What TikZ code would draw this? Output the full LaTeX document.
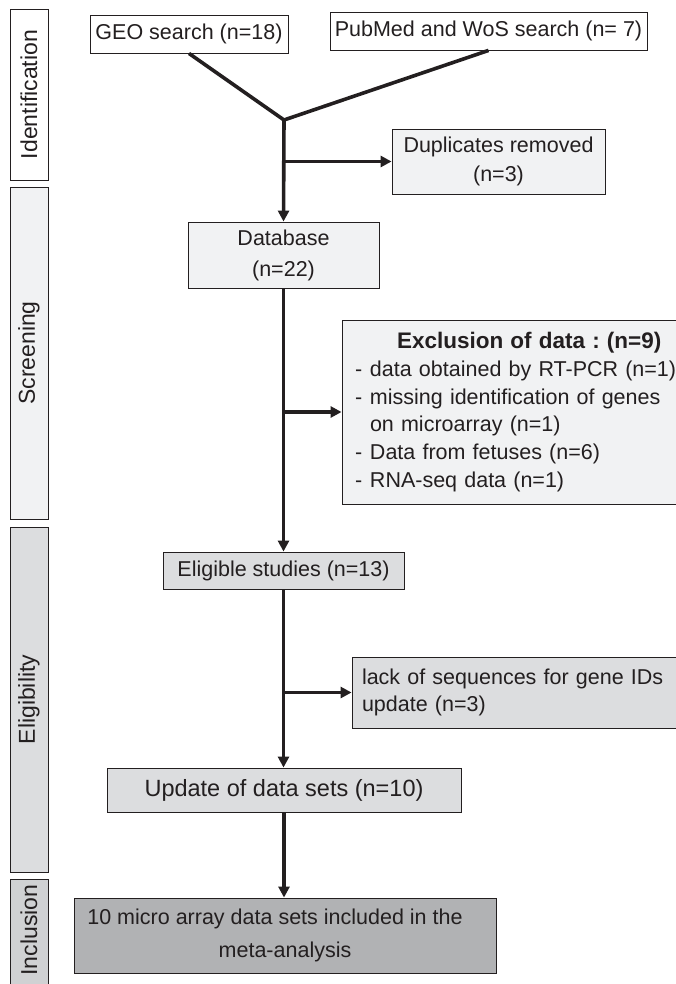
\documentclass[tikz,border=0pt]{standalone}
\usepackage{fontspec}
\setmainfont{Liberation Sans}
\usetikzlibrary{arrows.meta}
\definecolor{ink}{HTML}{231F20}
\definecolor{lightfill}{HTML}{F1F2F3}
\definecolor{midfill}{HTML}{DCDDDF}
\definecolor{incfill}{HTML}{D0D1D3}
\definecolor{darkfill}{HTML}{B1B2B4}
\frenchspacing
\begin{document}
\begin{tikzpicture}[x=1pt,y=-1pt,
  box/.style={draw=ink, line width=0.9pt, inner sep=0pt, text=ink, font=\fontsize{21.5}{28}\selectfont},
  conn/.style={draw=ink, line width=3.6pt},
  arr/.style={conn, -{Triangle[length=11pt,width=11pt]}},
  bar/.style={draw=ink, line width=0.9pt, rotate=90, minimum height=38pt, inner sep=0pt, text=ink, font=\fontsize{23}{28}\selectfont}]
\useasboundingbox (0,0) rectangle (675,984);

% phase bars
\node[bar, fill=white,     minimum width=171pt] (b1) at (29,94.5)  {Identification};
\node[bar, fill=lightfill, minimum width=332pt] (b2) at (29,353)   {Screening};
\node[bar, fill=midfill,   minimum width=345pt] (b3) at (29,699.5) {Eligibility};
\node[bar, fill=incfill,   minimum width=111pt] (b4) at (29,934.5) {\makebox[9pt]{}Inclusion};

% boxes
\node[box, fill=white, minimum width=198pt, minimum height=38pt] (geo) at (189,34) {GEO search (n=18)};
\node[box, fill=white, minimum width=317pt, minimum height=38pt] (pub) at (488.5,31) {PubMed and WoS search (n= 7)};
\node[box, fill=lightfill, minimum width=213pt, minimum height=65pt, align=center, font=\fontsize{21.5}{29}\selectfont] (dup) at (498.5,161.5) {Duplicates removed\\(n=3)};
\node[box, fill=lightfill, minimum width=191pt, minimum height=66pt, align=center, font=\fontsize{21.5}{31}\selectfont] (db) at (283.5,255) {Database\\(n=22)};
\node[box, fill=lightfill, minimum width=348pt, minimum height=184pt, text width=322pt, inner xsep=13pt, align=left, font=\fontsize{21.5}{27.8}\selectfont] (excl) at (516,412) {%
\hspace*{42pt}{\fontsize{22.5}{27.8}\selectfont\bfseries Exclusion of data : (n=9)}\\
\makebox[15pt][l]{-}data obtained by RT-PCR (n=1)\\
\makebox[15pt][l]{-}missing identification of genes\\
\hspace*{15pt}on microarray (n=1)\\
\makebox[15pt][l]{-}Data from fetuses (n=6)\\
\makebox[15pt][l]{-}RNA-seq data (n=1)};
\node[box, fill=midfill, minimum width=241pt, minimum height=37pt] (elig) at (283.5,570.5) {Eligible studies (n=13)};
\node[box, fill=midfill, minimum width=338pt, minimum height=71pt, text width=318pt, inner xsep=10pt, align=left, font=\fontsize{21.5}{27}\selectfont] (lack) at (521,692.5) {lack of sequences for gene IDs\\update (n=3)};
\node[box, fill=midfill, minimum width=354pt, minimum height=44pt, font=\fontsize{23.5}{28}\selectfont] (upd) at (284,790) {Update of data sets (n=10)};
\node[box, fill=darkfill, minimum width=422pt, minimum height=75pt, align=center, font=\fontsize{21.5}{33}\selectfont] (final) at (285,935.5) {10 micro array data sets included in the\makebox[20pt]{}\\meta-analysis};

% connectors
\coordinate (junc) at (284,120);
\draw[conn, line join=miter] (geo.south) -- (junc) -- (pub.south);
\draw[arr] ([yshift=1.5pt]junc) -- (db.north);
\draw[arr] (junc |- dup.west) -- (dup.west);
\draw[arr] (db.south) -- (elig.north);
\draw[arr] (db.south |- excl.west) -- (excl.west);
\draw[arr] (elig.south) -- (elig.south |- upd.north);
\draw[arr] (elig.south |- lack.west) -- (lack.west);
\draw[arr] (upd.south) -- (upd.south |- final.north);
\end{tikzpicture}
\end{document}
